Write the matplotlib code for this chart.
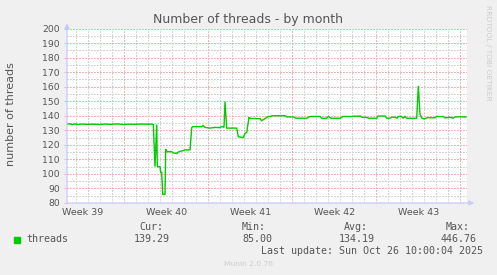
import matplotlib
matplotlib.use('Agg')
import matplotlib.pyplot as plt
from matplotlib.patches import Rectangle
import numpy as np

# ---- data (hours since start of graph window, thread count) ----
hours = [0, 6, 10, 16, 22, 30, 40, 52, 64, 76, 88, 100, 112, 124, 136, 148, 160, 170,
         172.6, 176, 179.4, 180.6, 186, 187.4, 189.4, 191.4, 196, 197.4, 199.4, 209.4,
         212, 219.4, 222, 226, 232.6, 236, 246, 249.4, 252, 269.4, 272, 276, 286, 296,
         306, 310, 314, 316, 319.4, 339.4, 342.6, 352.6, 356, 359.4, 364, 366, 386,
         389.4, 396, 402, 406, 410, 436, 440, 452.6, 458, 479.4, 486, 506, 510, 519.4,
         522.6, 528, 546, 552, 566, 586, 590, 599.4, 604, 619.4, 622, 636, 640, 646,
         650, 656, 660, 662.6, 669.4, 672, 676, 679.4, 699.4, 702.6, 706, 709.4, 714,
         720, 736, 739.4, 752.6, 756, 766, 772, 776, 798]
threads = [134.2, 134.5, 133.9, 134.4, 134.0, 134.3, 134.1, 134.2, 134.0, 134.3, 134.1,
           134.4, 134.0, 134.2, 134.1, 134.3, 134.2, 134.2,
           134.0, 105.0, 134.0, 105.0, 105.0, 101.0, 101.0, 86.0, 86.0, 117.0, 115.3, 115.3,
           114.5, 114.0, 115.0, 115.5, 116.0, 116.5, 116.5, 131.8, 132.5, 132.5,
           133.3, 132.0, 131.5, 132.0, 131.8, 132.7, 132.0, 149.7, 131.5, 131.5,
           125.6, 125.0, 128.0, 128.4, 139.0, 138.2, 138.0, 136.6, 138.0, 139.4, 139.4,
           140.0, 140.0, 139.2, 139.2, 138.3, 138.3, 139.5, 139.5, 138.3, 138.3, 139.5,
           138.3, 138.3, 139.5, 139.5, 139.8, 139.0, 138.8, 138.3, 138.3, 139.8, 139.8,
           138.3, 138.3, 139.0, 139.0, 138.3, 139.5, 139.5, 138.3, 139.5, 138.3, 138.3,
           160.5, 141.0, 138.5, 137.8, 138.6, 138.6, 139.5, 139.5, 138.5, 139.0, 138.3,
           139.2, 139.2]

week_labels = ['Week 39', 'Week 40', 'Week 41', 'Week 42', 'Week 43']
week_label_hours = [32, 200, 368, 536, 704]
week_boundary_hours = [114, 282, 450, 618, 786]
yticks = list(range(80, 201, 10))

series_name = 'threads'
stat_names = ['Cur:', 'Min:', 'Avg:', 'Max:']
stat_values = ['139.29', '85.00', '134.19', '446.76']
last_update = 'Last update: Sun Oct 26 10:00:04 2025'
munin_version = 'Munin 2.0.76'

W, H = 497, 275
fig = plt.figure(figsize=(W / 100, H / 100), dpi=100, facecolor='#f0f0f0')
ax = fig.add_axes([67 / W, 72 / H, 400 / W, 174.5 / H])
ax.set_facecolor('white')
ax.set_xlim(0, 800)
ax.set_ylim(80, 200)
for s in ax.spines.values():
    s.set_visible(False)

minor_col = '#d4d4d4'
major_col = '#f2b4b4'
dots = (0, (1.4, 1.4))

# minor grid
for h in np.arange(week_boundary_hours[0] % 24, 800, 24):
    if h not in week_boundary_hours:
        ax.axvline(h, color=minor_col, lw=0.72, ls=dots, zorder=1, antialiased=False)
for v in range(85, 200, 10):
    ax.axhline(v, color=minor_col, lw=0.72, ls=dots, zorder=1, antialiased=False)
# major grid
for h in week_boundary_hours:
    ax.axvline(h, color=major_col, lw=0.72, ls=dots, zorder=1, antialiased=False)
for v in yticks:
    ax.axhline(v, color=major_col, lw=0.72, ls=dots, zorder=1, antialiased=False)

ax.plot(hours, threads, color='#00cc00', lw=1.0, zorder=3, solid_joinstyle='miter')

ax.set_xticks(week_label_hours, week_labels)
ax.set_yticks(yticks, [str(t) for t in yticks])
ax.tick_params(axis='x', length=0, pad=3.5, labelsize=6.8, labelcolor='#555555')
ax.tick_params(axis='y', length=2.2, width=0.72, color=major_col, pad=2.9,
               labelsize=6.7, labelcolor='#555555')

# axes with arrows
axis_col = '#c8c8ff'
ax.annotate('', xy=(1.018, 0), xytext=(0, 0), xycoords='axes fraction',
            arrowprops=dict(arrowstyle='-|>', color=axis_col, lw=0.9, mutation_scale=7,
                            shrinkA=0, shrinkB=0), annotation_clip=False)
ax.annotate('', xy=(0, 1.03), xytext=(0, 0), xycoords='axes fraction',
            arrowprops=dict(arrowstyle='-|>', color=axis_col, lw=0.9, mutation_scale=7,
                            shrinkA=0, shrinkB=0), annotation_clip=False)

txt = '#555555'
fig.text(247.8 / W, 1 - 19 / H, 'Number of threads - by month', ha='center', va='center',
         fontsize=9, color=txt)
fig.text(10.8 / W, 1 - 114 / H, 'number of threads', ha='center', va='center',
         rotation=90, fontsize=8, color=txt)
fig.text(488 / W, 1 - 5 / H, 'RRDTOOL / TOBI OETIKER', ha='center', va='top',
         rotation=270, fontsize=5.4, color='#cccccc')

mono = dict(family='DejaVu Sans Mono', fontsize=7.2, color=txt)
fig.add_artist(Rectangle((14 / W, 1 - 242.5 / H), 6 / W, 6 / H, transform=fig.transFigure,
                         color='#00cc00'))
fig.text(26.7 / W, 1 - 239.3 / H, series_name, ha='left', va='center', **mono)
name_right = [163.3, 265.7, 368, 470]
val_right = [170, 272, 374.3, 476.7]
for n, v, xn, xv in zip(stat_names, stat_values, name_right, val_right):
    fig.text(xn / W, 1 - 227.3 / H, n, ha='right', va='center', **mono)
    fig.text(xv / W, 1 - 239.3 / H, v, ha='right', va='center', **mono)
fig.text(482.7 / W, 1 - 251 / H, last_update, ha='right', va='center', **mono)
fig.text(248 / W, 1 - 264.3 / H, munin_version, ha='center', va='center', fontsize=5.4,
         color='#cccccc')

fig.savefig('out.png', dpi=100, facecolor=fig.get_facecolor())
